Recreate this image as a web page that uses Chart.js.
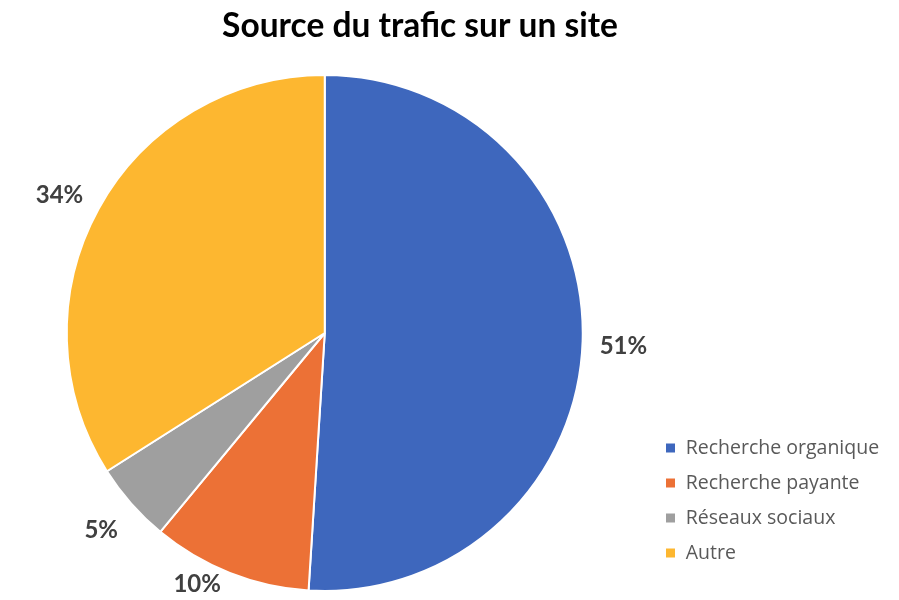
<!DOCTYPE html>
<html><head><meta charset="utf-8">
<script src="https://cdn.jsdelivr.net/npm/chart.js@4"></script>
<style>html,body{margin:0;padding:0;background:#fff;} #wrap{width:899px;height:600px;position:relative;}</style>
</head><body><div id="wrap"><canvas id="c"></canvas></div>
<script>
const categories = ['Recherche organique', 'Recherche payante', 'Réseaux sociaux', 'Autre'];
const values = [51, 10, 5, 34];
const valueLabels = ['51%', '10%', '5%', '34%'];
const sliceColors = ['#3E67BD', '#EC7136', '#9F9F9F', '#FDB730'];

const outsideLabels = {
  id: 'outsideLabels',
  afterDatasetsDraw(chart, args, opts) {
    const meta = chart.getDatasetMeta(0);
    const ctx = chart.ctx;
    ctx.save();
    ctx.font = opts.font;
    ctx.fillStyle = opts.color;
    ctx.textAlign = 'center';
    ctx.textBaseline = 'middle';
    meta.data.forEach((arc, i) => {
      const p = arc.getProps(['x', 'y', 'startAngle', 'endAngle', 'outerRadius'], true);
      const a = (p.startAngle + p.endAngle) / 2 + (opts.angleShift[i] || 0) * Math.PI / 180;
      const r = p.outerRadius + opts.offset[i];
      ctx.fillText(valueLabels[i], p.x + r * Math.cos(a), p.y + r * Math.sin(a));
    });
    ctx.restore();
  }
};

new Chart(document.getElementById('c'), {
  type: 'pie',
  data: {
    labels: categories,
    datasets: [{
      data: values,
      backgroundColor: sliceColors,
      borderColor: '#ffffff',
      borderWidth: 2,
      radius: 258
    }]
  },
  options: {
    responsive: true,
    maintainAspectRatio: false,
    animation: false,
    layout: { padding: { left: -39, right: 20, top: 0, bottom: 21.75 } },
    plugins: {
      tooltip: { enabled: false },
      title: {
        display: true,
        text: 'Source du trafic sur un site',
        color: '#000000',
        font: { family: 'Lato', size: 33.5, weight: 'bold' },
        padding: { top: 6, bottom: 41.55 }
      },
      subtitle: {
        display: true,
        position: 'left',
        fullSize: false,
        text: '',
        font: { size: 10 },
        padding: { top: 22, bottom: 0 }
      },
      legend: {
        position: 'right',
        align: 'end',
        labels: {
          boxWidth: 11,
          boxHeight: 11,
          padding: 15.5,
          color: '#595959',
          font: { family: 'Open Sans', size: 19.5 }
        }
      },
      outsideLabels: {
        font: 'bold 24px Lato',
        color: '#404040',
        offset: [41, 24, 40, 41],
        angleShift: [0.8, 5.3, 0, -1.3]
      }
    }
  },
  plugins: [outsideLabels]
});
</script>
</body></html>
